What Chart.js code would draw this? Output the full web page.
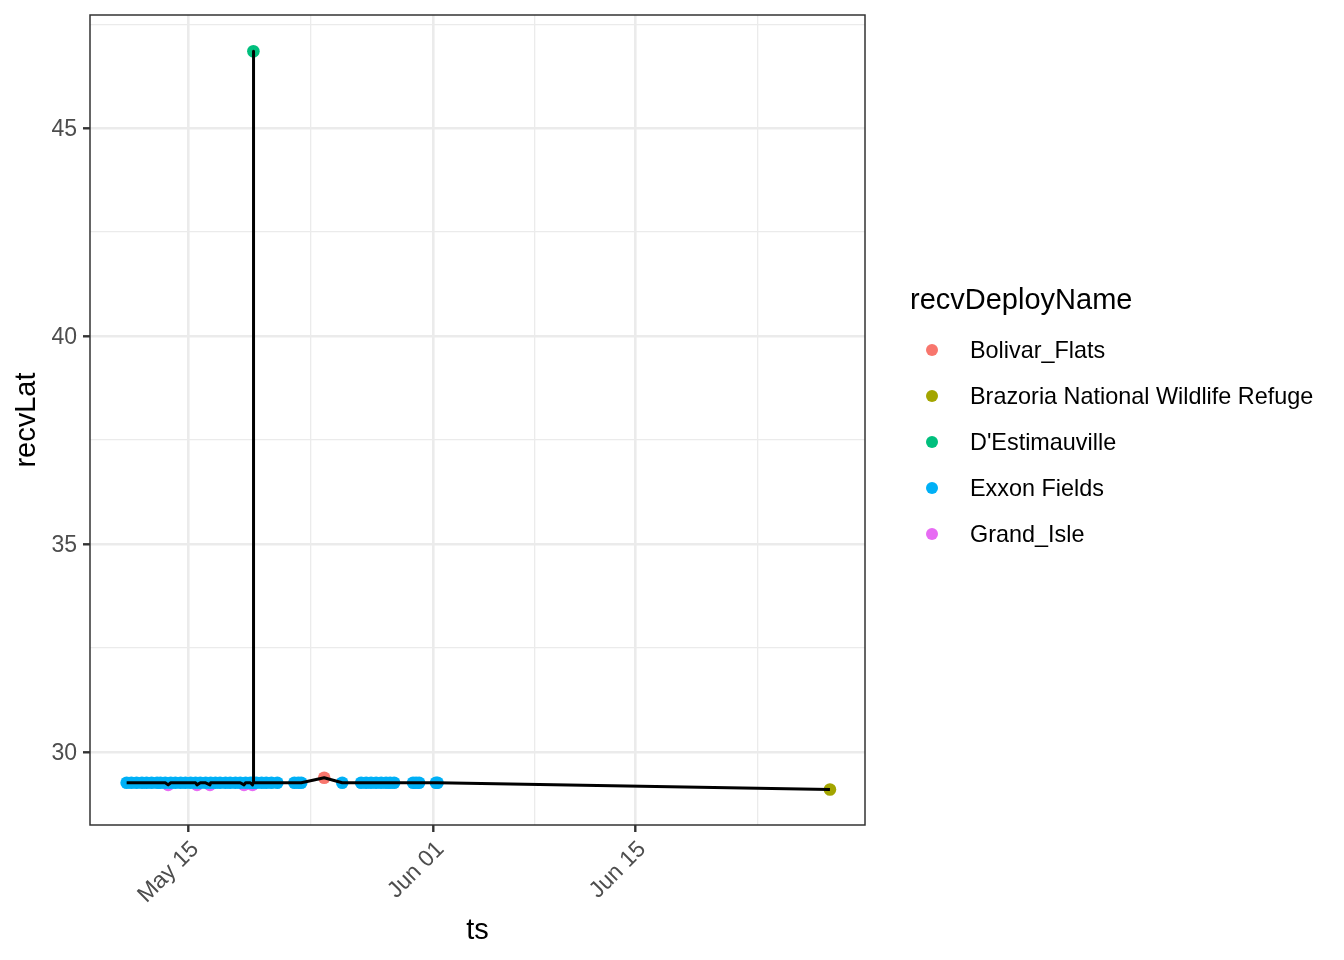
<!DOCTYPE html>
<html>
<head>
<meta charset="utf-8">
<script src="https://cdn.jsdelivr.net/npm/chart.js@4.4.1/dist/chart.umd.min.js"></script>
<style>
  html, body { margin: 0; padding: 0; background: #ffffff; }
  #wrap { position: relative; width: 1344px; height: 960px; overflow: hidden; }
  #c { position: absolute; left: 0; top: 0; }
  .lg { position: absolute; font-family: "Liberation Sans", Arial, Helvetica, sans-serif; color: #000; white-space: nowrap; }
  .lg-title { font-size: 29px; line-height: 29px; }
  .lg-label { font-size: 23.4px; line-height: 23px; }
  .lg-dot { position: absolute; width: 12px; height: 12px; border-radius: 50%; }
</style>
</head>
<body>
<div id="wrap">
  <canvas id="c" width="1344" height="960"></canvas>
</div>
<script>
// x values are days since May 1 (May 1 = 0, May 15 = 14, Jun 1 = 31, Jun 15 = 45)
const categories = ["Bolivar_Flats", "Brazoria National Wildlife Refuge", "D'Estimauville", "Exxon Fields", "Grand_Isle"];
const categoryColors = ["#F8766D", "#A3A500", "#00BF7D", "#00B0F6", "#E76BF3"];

const bolivarDays = [23.42];
const bolivarLat  = [29.38];

const brazoriaDays = [58.49];
const brazoriaLat  = [29.10];

const destimDays = [18.51];
const destimLat  = [46.85];

const exxonDays = [9.72, 10.05, 10.41, 10.78, 11.10, 11.45, 11.83, 12.07, 12.40, 12.78, 13.10, 13.47,
                   13.80, 14.16, 14.50, 14.83, 15.20, 15.55, 15.88, 16.20, 16.58, 16.90, 17.27, 17.60,
                   17.97, 18.30, 18.49, 18.53, 18.72, 19.08, 19.40, 19.76, 20.17, 21.35, 21.62, 21.83,
                   24.67, 25.98, 26.33, 26.67, 27.02, 27.37, 27.71, 27.99, 28.27, 29.58, 29.79, 30.00,
                   31.17, 31.28];
const exxonLat  = [29.26, 29.26, 29.26, 29.26, 29.26, 29.26, 29.26, 29.26, 29.26, 29.26, 29.26, 29.26,
                   29.26, 29.26, 29.26, 29.26, 29.26, 29.26, 29.26, 29.26, 29.26, 29.26, 29.26, 29.26,
                   29.26, 29.26, 29.26, 29.26, 29.26, 29.26, 29.26, 29.26, 29.26, 29.26, 29.26, 29.26,
                   29.26, 29.26, 29.26, 29.26, 29.26, 29.26, 29.26, 29.26, 29.26, 29.26, 29.26, 29.26,
                   29.26, 29.26];

const grandIsleDays = [12.60, 14.60, 15.50, 17.86, 18.45];
const grandIsleLat  = [29.21, 29.21, 29.21, 29.21, 29.21];

// axis ticks
const xTickDays   = [14, 31, 45];
const xTickLabels = ["May 15", "Jun 01", "Jun 15"];
const xMinorDays  = [22.5, 38, 53.5];
const xLimits     = [7.18, 60.92];

const yTickValues = [30, 35, 40, 45];
const yTickLabels = ["30", "35", "40", "45"];
const yMinorValues = [32.5, 37.5, 42.5, 47.5];
const yLimits     = [28.245, 47.72];

const FONT = '"Liberation Sans", Arial, Helvetica, sans-serif';

function toPoints(days, lats) { return days.map((d, i) => ({ x: d, y: lats[i] })); }

const seriesDays = [bolivarDays, brazoriaDays, destimDays, exxonDays, grandIsleDays];
const seriesLat  = [bolivarLat, brazoriaLat, destimLat, exxonLat, grandIsleLat];

// path through all detections in time order
const pathPoints = [];
seriesDays.forEach((days, s) => days.forEach((d, i) => pathPoints.push({ x: d, y: seriesLat[s][i] })));
pathPoints.sort((a, b) => a.x - b.x);

const pointOrder = [1, 2, 3, 4, 5]; // Grand_Isle under Exxon Fields
const datasets = [{
  label: 'path',
  data: pathPoints,
  showLine: true,
  borderColor: '#000000',
  borderWidth: 3,
  pointRadius: 0,
  pointHoverRadius: 0,
  tension: 0,
  borderJoinStyle: 'round',
  order: 0
}];
categories.forEach((name, s) => {
  datasets.push({
    label: name,
    data: toPoints(seriesDays[s], seriesLat[s]),
    showLine: false,
    backgroundColor: categoryColors[s],
    borderColor: categoryColors[s],
    pointRadius: 6.3,
    pointBorderWidth: 0,
    pointHoverRadius: 6.3,
    order: pointOrder[s]
  });
});

function buildTicks(majors, minors) {
  const t = majors.map(v => ({ value: v, isMajor: true })).concat(minors.map(v => ({ value: v, isMajor: false })));
  t.sort((a, b) => a.value - b.value);
  return t;
}
const isMajor = ctx => !!(ctx.tick && ctx.tick.isMajor);

const panelBorder = {
  id: 'panelBorder',
  afterDatasetsDraw(chart) {
    const { ctx, chartArea: a } = chart;
    ctx.save();
    ctx.strokeStyle = '#333333';
    ctx.lineWidth = 1.5;
    ctx.strokeRect(a.left, a.top, a.right - a.left, a.bottom - a.top);
    ctx.restore();
  }
};

new Chart(document.getElementById('c'), {
  type: 'scatter',
  data: { datasets },
  plugins: [panelBorder],
  options: {
    responsive: false,
    animation: false,
    devicePixelRatio: 1,
    layout: { padding: { left: 0, top: 15, right: 479, bottom: 0 } },
    plugins: { legend: { display: false }, tooltip: { enabled: false } },
    scales: {
      x: {
        type: 'linear',
        min: xLimits[0],
        max: xLimits[1],
        afterBuildTicks: scale => { scale.ticks = buildTicks(xTickDays, xMinorDays); },
        afterFit: scale => { scale.height = 135; scale.paddingLeft = 0; scale.paddingRight = 0; },
        border: { display: false },
        grid: {
          color: '#EBEBEB',
          lineWidth: ctx => isMajor(ctx) ? 2.6 : 1.3,
          drawTicks: true,
          tickLength: 7,
          tickColor: ctx => isMajor(ctx) ? '#333333' : 'rgba(0,0,0,0)',
          tickWidth: 2.4
        },
        ticks: {
          autoSkip: false,
          minRotation: 45,
          maxRotation: 45,
          padding: 4,
          labelOffset: 7,
          color: '#4D4D4D',
          font: { family: FONT, size: 23 },
          callback: v => { const i = xTickDays.indexOf(v); return i >= 0 ? xTickLabels[i] : ''; }
        },
        title: {
          display: true,
          text: 'ts',
          color: '#000000',
          font: { family: FONT, size: 29 },
          padding: { top: 0, bottom: 12 }
        }
      },
      y: {
        type: 'linear',
        min: yLimits[0],
        max: yLimits[1],
        afterBuildTicks: scale => { scale.ticks = buildTicks(yTickValues, yMinorValues); },
        afterFit: scale => { scale.width = 90; scale.paddingTop = 0; scale.paddingBottom = 0; },
        border: { display: false },
        grid: {
          color: '#EBEBEB',
          lineWidth: ctx => isMajor(ctx) ? 2.6 : 1.3,
          drawTicks: true,
          tickLength: 7,
          tickColor: ctx => isMajor(ctx) ? '#333333' : 'rgba(0,0,0,0)',
          tickWidth: 2.4
        },
        ticks: {
          autoSkip: false,
          padding: 6,
          labelOffset: 2,
          color: '#4D4D4D',
          font: { family: FONT, size: 23 },
          callback: v => { const i = yTickValues.indexOf(v); return i >= 0 ? yTickLabels[i] : ''; }
        },
        title: {
          display: true,
          text: 'recvLat',
          color: '#000000',
          font: { family: FONT, size: 29 },
          padding: { top: 10, bottom: 0 }
        }
      }
    }
  }
});

// legend (HTML text)
const wrap = document.getElementById('wrap');
const title = document.createElement('div');
title.className = 'lg lg-title';
title.style.left = '910px';
title.style.top = '285px';
title.textContent = 'recvDeployName';
wrap.appendChild(title);
categories.forEach((name, i) => {
  const cy = 350 + i * 46;
  const dot = document.createElement('div');
  dot.className = 'lg-dot';
  dot.style.left = (932 - 6) + 'px';
  dot.style.top = (cy - 6) + 'px';
  dot.style.background = categoryColors[i];
  wrap.appendChild(dot);
  const lab = document.createElement('div');
  lab.className = 'lg lg-label';
  lab.style.left = '970px';
  lab.style.top = (cy + 8 - 19.5) + 'px';
  lab.textContent = name;
  wrap.appendChild(lab);
});
</script>
</body>
</html>
